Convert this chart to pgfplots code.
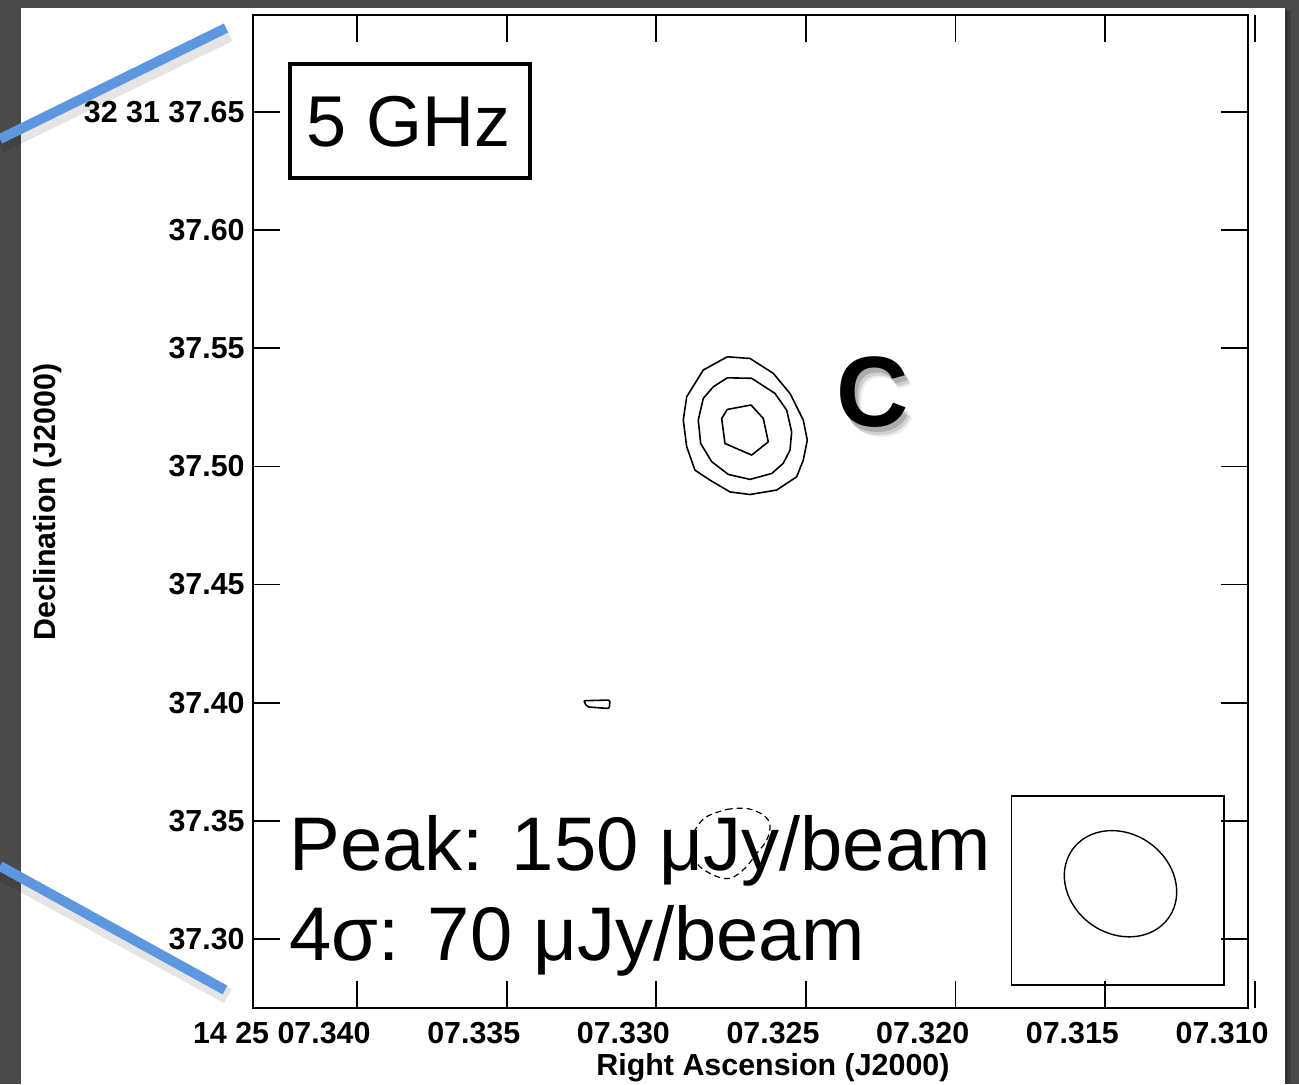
\documentclass[border=0pt]{standalone}
\usepackage{fontspec}
\setmainfont{Liberation Sans}
\usepackage{pgfplots}
\pgfplotsset{compat=1.18}

\definecolor{slate}{RGB}{74,74,74}
\definecolor{pointer}{RGB}{92,151,224}

\begin{document}
\begin{tikzpicture}
\useasboundingbox (0pt,0pt) rectangle (649.5pt,-542pt);
% page background and white panel (pixel-like units, y downwards)
\begin{scope}[x=0.5pt,y=-0.5pt]
  \fill[slate] (0,0) rectangle (1299,1084);
  \fill[black,opacity=0.18] (24,11) rectangle (1291,1084);
  \fill[black,opacity=0.12] (22,9) rectangle (1288,1084);
  \fill[white] (21,8) rectangle (1285,1084);
\end{scope}

\begin{scope}[overlay]
\begin{axis}[
  at={(126.5pt,-504pt)}, anchor=south west,
  scale only axis, width=497.5pt, height=496.5pt,
  x dir=reverse,
  xmin=10.23, xmax=43.475,
  ymin=37.2707, ymax=37.6911,
  xtick={15,20,25,30,35,40},
  xticklabels={\mbox{07.315},\mbox{07.320},\mbox{07.325},\mbox{07.330},\mbox{07.335},\mbox{14 25 07.340}},
  ytick={37.30,37.35,37.40,37.45,37.50,37.55,37.60,37.65},
  yticklabels={\mbox{37.30},\mbox{37.35},\mbox{37.40},\mbox{37.45},\mbox{37.50},\mbox{37.55},\mbox{37.60},\mbox{32 31 37.65}},
  minor tick num=0,
  tick align=inside, major tick length=13.5pt,
  every tick/.style={black, line width=0.9pt},
  axis line style={line width=0.9pt},
  ticklabel style={font=\fontsize{15.2}{18}\selectfont\bfseries},
  xticklabel style={anchor=north east, inner sep=0pt, xshift=7pt, yshift=-7pt},
  yticklabel style={anchor=east, inner sep=0pt, xshift=-4pt},
  xlabel={Right Ascension (J2000)},
  ylabel={Declination (J2000)},
  label style={font=\fontsize{15.2}{18}\selectfont\bfseries},
  xlabel style={at={(axis description cs:0.5226,-0.0675)}, anchor=base},
  ylabel style={at={(axis description cs:-0.198,0.5096)}, anchor=base},
  clip=false,
]
% outer contour of source C
\addplot[black, line width=0.8pt, line join=round] coordinates {
  (27.628,37.5464) (26.869,37.5457) (26.091,37.5394) (25.533,37.5309)
  (25.088,37.5196) (24.955,37.5111) (25.088,37.5027) (25.309,37.4956)
  (25.977,37.4900) (26.869,37.4881) (27.538,37.4892) (28.206,37.4942)
  (28.707,37.4984) (28.984,37.5083) (29.098,37.5196) (28.984,37.5295)
  (28.430,37.5408) (27.628,37.5464)};
% middle contour
\addplot[black, line width=0.8pt, line join=round] coordinates {
  (27.628,37.5375) (26.813,37.5373) (26.034,37.5309) (25.643,37.5238)
  (25.476,37.5146) (25.533,37.5069) (25.757,37.5013) (26.144,37.4970)
  (26.869,37.4945) (27.594,37.4966) (28.149,37.5020) (28.517,37.5097)
  (28.597,37.5196) (28.430,37.5288) (28.095,37.5337) (27.628,37.5375)};
% inner contour
\addplot[black, line width=0.8pt, line join=round] coordinates {
  (27.628,37.5241) (26.836,37.5260) (26.425,37.5203) (26.258,37.5104)
  (26.813,37.5048) (27.705,37.5097) (27.815,37.5203) (27.628,37.5241)};
% small isolated contour
\addplot[black, line width=0.8pt, line join=round, rounded corners=1pt] coordinates {
  (32.416,37.4008) (31.547,37.4011) (31.570,37.3975) (32.325,37.3982) (32.416,37.4008)};
% negative contour (dashed)
\addplot[black, line width=0.6pt, dash pattern=on 3pt off 2pt, smooth, tension=0.6] coordinates {
  (27.648,37.3548) (26.980,37.3552) (26.425,37.3524) (26.201,37.3481)
  (26.311,37.3418) (26.645,37.3362) (27.036,37.3299) (27.538,37.3256)
  (28.095,37.3270) (28.650,37.3319) (28.817,37.3390) (28.707,37.3460)
  (28.316,37.3517) (27.648,37.3548)};
\end{axis}
\end{scope}

\begin{scope}[x=0.5pt,y=-0.5pt,overlay]
  % last RA tick, just outside the frame
  \draw[black, line width=0.9pt] (1255,15) -- (1255,42);
  \draw[black, line width=0.9pt] (1255,981) -- (1255,1008);
  \node[anchor=north east, inner sep=0pt, font=\fontsize{15.2}{18}\selectfont\bfseries] at (1269,1022) {07.310};

  % frequency box
  \draw[black, line width=2pt] (290.3,63.7) rectangle (529.7,178);
  \node[anchor=base, inner sep=0pt, font=\fontsize{36}{40}\selectfont] at (409,146.7) {5 GHz};

  % source label with soft shadow
  \foreach \dx/\dy/\op in {3/5/0.16, 5/8/0.12, 7/10/0.07} {
    \node[inner sep=0pt, text=black, opacity=\op, font=\fontsize{50}{55}\selectfont\bfseries] at (873+\dx,392+\dy) {C};
  }
  \node[inner sep=0pt, font=\fontsize{50}{55}\selectfont\bfseries] at (873,392) {C};

  % flux annotations
  \node[anchor=base west, inner sep=0pt, font=\fontsize{38}{42}\selectfont] at (289,870) {Peak: 150 μJy/beam};
  \node[anchor=base west, inner sep=0pt, font=\fontsize{38}{42}\selectfont] at (289,960) {4σ: 70 μJy/beam};

  % restoring beam
  \draw[black, line width=0.7pt] (1011.7,796) rectangle (1224,985);
  \draw[black, line width=0.7pt, rotate around={-35:(1120.5,883.7)}] (1120.5,883.7) ellipse [x radius=29.5pt, y radius=25pt];

  % zoom pointer lines
  \draw[black, opacity=0.10, line width=8pt] (0,145) -- (229,34);
  \draw[black, opacity=0.10, line width=8pt] (0,872) -- (228,996);
  \draw[pointer, line width=5pt] (0,139) -- (226,28);
  \draw[pointer, line width=5pt] (0,866) -- (225,990);
\end{scope}
\end{tikzpicture}
\end{document}
